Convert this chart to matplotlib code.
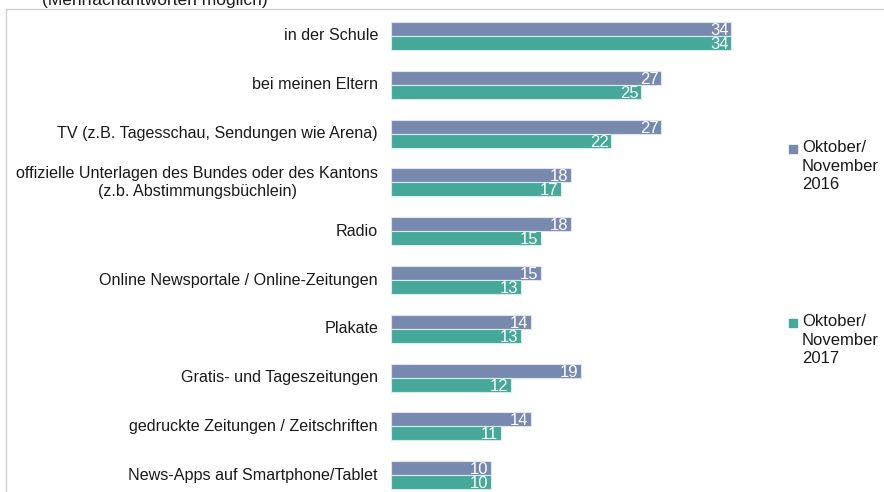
import matplotlib.pyplot as plt
from matplotlib.lines import Line2D
from matplotlib.patches import Rectangle

plt.rcParams['font.family'] = ['Liberation Sans', 'DejaVu Sans']

kategorien = [
    "in der Schule",
    "bei meinen Eltern",
    "TV (z.B. Tagesschau, Sendungen wie Arena)",
    "offizielle Unterlagen des Bundes oder des Kantons\n(z.b. Abstimmungsbüchlein)",
    "Radio",
    "Online Newsportale / Online-Zeitungen",
    "Plakate",
    "Gratis- und Tageszeitungen",
    "gedruckte Zeitungen / Zeitschriften",
    "News-Apps auf Smartphone/Tablet",
]
werte_2016 = [34, 27, 27, 18, 18, 15, 14, 19, 14, 10]
werte_2017 = [34, 25, 22, 17, 15, 13, 13, 12, 11, 10]
serien = ["Oktober/\nNovember\n2016", "Oktober/\nNovember\n2017"]

blau = "#7889B0"
gruen = "#45A898"
textfarbe = "#1a1a1a"

W, H = 884, 492
fig = plt.figure(figsize=(W / 100, H / 100), dpi=100)

# 0 liegt bei x=391px, eine Einheit ~ 10px
px_unit = 10.0
x0 = 391
ax = fig.add_axes([x0 / W, 0, 40 * px_unit / W, 1])
ax.set_xlim(0, 40)
y_top, gap = 36, 48.8
ax.set_ylim((H - y_top) / gap, -y_top / gap)
ax.axis("off")

h = 0.287
ys = list(range(len(kategorien)))
ax.barh([y - h / 2 for y in ys], werte_2016, height=h, color=blau,
        edgecolor="#dfe3ee", linewidth=0.8)
ax.barh([y + h / 2 for y in ys], werte_2017, height=h, color=gruen,
        edgecolor="#d6eee9", linewidth=0.8)

for y, v1, v2, lab in zip(ys, werte_2016, werte_2017, kategorien):
    ax.text(v1 - 0.25, y - h / 2 + 0.03, str(v1), color="white", fontsize=12,
            ha="right", va="center")
    ax.text(v2 - 0.25, y + h / 2 + 0.03, str(v2), color="white", fontsize=12,
            ha="right", va="center")
    ax.text(-1.3, y, lab, color=textfarbe, fontsize=11.6, ha="right",
            va="center", multialignment="center", linespacing=1.3)

# Rahmen
fig.add_artist(Line2D([6 / W, 1], [1 - 9 / H, 1 - 9 / H], color="#d0d0d0", lw=1))
fig.add_artist(Line2D([6 / W, 6 / W], [0, 1 - 9 / H], color="#d0d0d0", lw=1))

# Untertitel (oben abgeschnitten wie im Original)
fig.text(42 / W, 1 - 0 / H, "(Mehrfachantworten möglich)", fontsize=12.5,
         color=textfarbe, ha="left", va="center")

# Legende
for (ypx, farbe, txt) in [(149, blau, serien[0]), (323, gruen, serien[1])]:
    fig.add_artist(Rectangle((789 / W, 1 - (ypx + 4) / H), 8 / W, 8 / H,
                             color=farbe, transform=fig.transFigure))
    fig.text(802 / W, 1 - (ypx - 9) / H, txt, fontsize=12, color=textfarbe,
             ha="left", va="top", linespacing=1.3)

fig.savefig("out.png", dpi=100)
